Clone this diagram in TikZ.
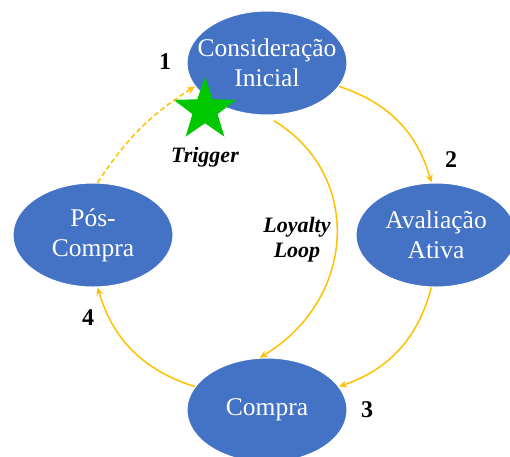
\documentclass[tikz,border=0pt]{standalone}
\usepackage{fontspec}
\setmainfont{Liberation Serif}
\usepackage{tikz}
\usetikzlibrary{shapes.geometric,arrows.meta}
\definecolor{stageblue}{HTML}{4472C4}
\definecolor{loopgold}{HTML}{FFC000}
\definecolor{stargreen}{HTML}{00C800}

\begin{document}
\begin{tikzpicture}[x=1pt, y=1pt,
  stage/.style={ellipse, draw=white, line width=1pt, fill=stageblue, text=white,
    minimum width=160pt, minimum height=104pt, inner sep=-14pt, align=center,
    font=\fontsize{25.5}{30}\selectfont},
  flow/.style={loopgold, line width=1.5pt, -{Stealth[length=8pt, width=7pt]}},
  num/.style={font=\fontsize{24}{28}\selectfont\bfseries},
  tag/.style={font=\fontsize{22}{25}\selectfont\bfseries\itshape, align=center}]
\useasboundingbox (0,0) rectangle (510,-456);

%draw stages
\node[stage] (ci) at (267,-63) {Consideração\\Inicial};
\node[stage] (aa) at (436,-235) {Avaliação\\Ativa};
\node[stage] (cp) at (267,-410) {Compra};
\node[stage] (pc) at (93,-235) {Pós-\\Compra};

%draw trigger star
\node[star, star points=5, star point ratio=2.5, fill=stargreen, minimum size=66pt, inner sep=0pt] (st) at (205,-110) {};

%draw cycle arrows
\draw[flow] (ci.-18) to[bend left=28] (aa.95);
\draw[flow] (aa.-95) to[bend left=28] (cp.18);
\draw[flow] (cp.162) to[bend left=28] (pc.-85);
\draw[flow, dash pattern=on 5pt off 3pt] (pc.85) to[bend left=12] (ci.198);

%draw loyalty loop
\draw[flow, shorten <=10pt] (ci.-92) to[out=-31, in=31, looseness=1.2] (cp.98);

%draw labels
\node[num] (n1) at (165,-62) {1};
\node[num] (n2) at (451,-160) {2};
\node[num] (n3) at (367,-410) {3};
\node[num] (n4) at (88,-318) {4};
\node[tag] (tr) at (205,-157) {Trigger};
\node[tag] (ll) at (297,-240) {Loyalty\\Loop};
\end{tikzpicture}
\end{document}
